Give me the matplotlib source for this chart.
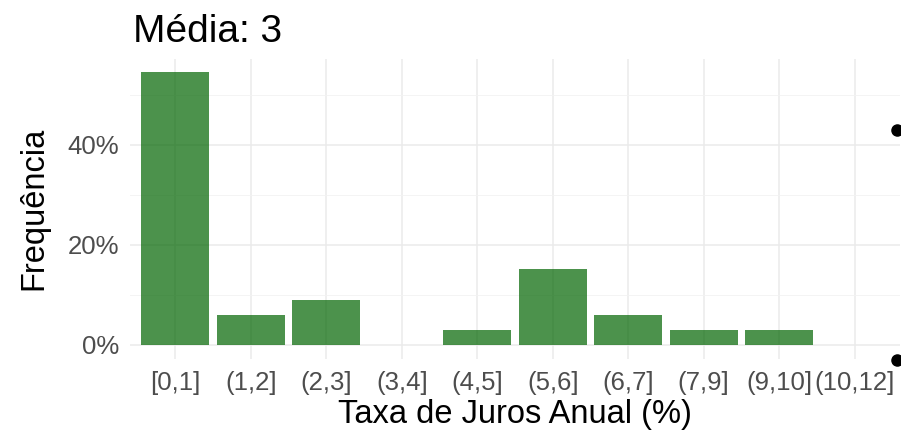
import matplotlib
matplotlib.use('Agg')
from matplotlib import pyplot as plt
from matplotlib.ticker import FuncFormatter, MultipleLocator
import numpy as np

plt.rcParams['font.family'] = ['Liberation Sans', 'DejaVu Sans']

# Contagens por faixa de taxa (n = 33)
faixas = ['[0,1]', '(1,2]', '(2,3]', '(3,4]', '(4,5]',
          '(5,6]', '(6,7]', '(7,9]', '(9,10]', '(10,12]']
contagens = [18, 2, 3, 0, 1, 5, 2, 1, 1, 0]
media = 3

freq = np.array(contagens) / sum(contagens)
pos = np.arange(len(faixas))

fig = plt.figure(figsize=(9.01, 4.41), dpi=100)
ax = fig.add_axes([130 / 901, 82.4 / 441, 770 / 901, 300 / 441])

ax.bar(pos, freq, width=0.9, color='darkgreen', alpha=0.7, zorder=2)

ax.set_xlim(-0.6, len(faixas) - 0.4)
ax.set_ylim(-0.05 * freq.max(), 1.05 * freq.max())
ax.set_xticks(pos)
ax.set_xticklabels(faixas)
ax.yaxis.set_major_locator(MultipleLocator(0.2))
ax.yaxis.set_minor_locator(MultipleLocator(0.1))
ax.yaxis.set_major_formatter(FuncFormatter(lambda v, p: f'{v * 100:.0f}%'))

ax.grid(True, which='major', color='#ebebeb', linewidth=1.1, zorder=0)
ax.grid(True, which='minor', axis='y', color='#f2f2f2', linewidth=0.6, zorder=0)
ax.set_axisbelow(True)
for s in ax.spines.values():
    s.set_visible(False)
ax.tick_params(axis='both', which='both', length=0, labelsize=18.5, labelcolor='#4d4d4d')
ax.tick_params(axis='x', pad=9)
ax.tick_params(axis='y', pad=8)

ax.set_xlabel('Taxa de Juros Anual (%)', fontsize=23.5, color='black', labelpad=3)
ax.set_ylabel('Frequência', fontsize=23.5, color='black', labelpad=13)
ax.set_title(f'Média: {media}', fontsize=28, loc='left', pad=12, x=0.004)

# pontos cortados na borda direita
fig.add_artist(plt.Line2D([897 / 901, 897 / 901], [1 - 130 / 441, 1 - 360 / 441],
                          transform=fig.transFigure, linestyle='none',
                          marker='o', markersize=8, color='black'))

fig.savefig('out.png', dpi=100)
